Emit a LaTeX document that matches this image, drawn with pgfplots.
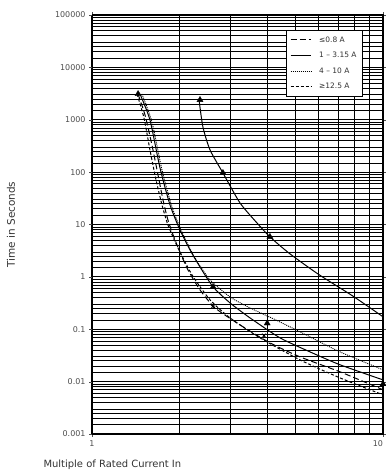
\documentclass[border=0pt]{standalone}
\usepackage{fontspec}
\setmainfont{DejaVu Sans}
\usepackage{pgfplots}
\pgfplotsset{compat=1.18}
\begin{document}
\begin{tikzpicture}
\path[use as bounding box] (-92bp,-41bp) rectangle (294bp,434bp);
\begin{loglogaxis}[
  at={(0,0)}, anchor=south west,
  scale only axis, width=291bp, height=419bp,
  xmin=1, xmax=10, ymin=0.001, ymax=100000,
  xtick={1,10}, xticklabels={1,\llap{10}},
  ytick={0.001,0.01,0.1,1,10,100,1000,10000,100000},
  yticklabels={0.001,0.01,0.1,1,10,100,1000,10000,100000},
  minor xtick={2,3,4,5,6,7,8,9},
  minor ytick={0.0015,0.002,0.0025,0.003,0.004,0.005,0.006,0.007,0.008,0.009,
    0.015,0.02,0.025,0.03,0.04,0.05,0.06,0.07,0.08,0.09,
    0.15,0.2,0.25,0.3,0.4,0.5,0.6,0.7,0.8,0.9,
    1.5,2,2.5,3,4,5,6,7,8,9,
    15,20,25,30,40,50,60,70,80,90,
    150,200,250,300,400,500,600,700,800,900,
    1500,2000,2500,3000,4000,5000,6000,7000,8000,9000,
    15000,20000,25000,30000,40000,50000,60000,70000,80000,90000},
  grid=both,
  major grid style={black, line width=1.1pt},
  minor grid style={black, line width=0.7pt},
  tick align=outside, major tick length=3pt, minor tick length=0pt,
  tick style={black!70},
  ticklabel style={font=\fontsize{8}{9}\selectfont, text=black!70},
  axis line style={black, line width=1pt},
  xlabel={Multiple of Rated Current In},
  ylabel={Time in Seconds},
  xlabel style={at={(axis description cs:0.07,-0.074)}, anchor=center, font=\fontsize{10}{12}\selectfont, text=black!80},
  ylabel style={at={(axis description cs:-0.278,0.5)}, anchor=center, font=\fontsize{10.5}{12}\selectfont, text=black!80},
  legend style={at={(0.931,0.964)}, anchor=north east, font=\fontsize{7.5}{9}\selectfont,
    draw=black, line width=0.8pt, fill=white, row sep=4.5pt, inner xsep=4pt, inner ysep=4pt, text=black!80,
    /tikz/every odd column/.append style={column sep=6pt}},
  legend cell align=left,
  legend image code/.code={\draw[#1] (0bp,0bp) -- (20bp,0bp);},
]
% <= 0.8 A
\addplot[black, line width=1pt, dash pattern=on 6pt off 3pt, smooth, tension=0.4] coordinates {
(1.439,3103) (1.521,1236) (1.607,330) (1.686,88.5) (1.754,29.4) (1.824,12.2) (1.928,5.1)
(2.119,1.49) (2.350,0.565) (2.648,0.256) (3.226,0.121) (4.088,0.055) (5.185,0.0297)
(7.113,0.0154) (10,0.0070)};
\addlegendentry{≤0.8 A}
% 1 - 3.15 A
\addplot[black, line width=1pt, smooth, tension=0.4] coordinates {
(1.462,3103) (1.582,991) (1.713,120) (1.854,23.7) (2.005,7.9) (2.172,3.27) (2.350,1.55)
(2.606,0.644) (2.980,0.319) (3.490,0.165) (4.425,0.0686) (5.611,0.037) (7.113,0.021) (10,0.0108)};
\addlegendentry{1 – 3.15 A}
% 4 - 10 A
\addplot[black, line width=0.9pt, dash pattern=on 1pt off 1pt, smooth, tension=0.4] coordinates {
(1.485,3103) (1.607,908) (1.740,110) (1.883,21.7) (2.037,7.2) (2.259,2.3) (2.545,0.877)
(2.980,0.415) (3.490,0.256) (4.425,0.138) (5.611,0.0716) (7.113,0.037) (10,0.0168)};
\addlegendentry{4 – 10 A}
% >= 12.5 A
\addplot[black, line width=1pt, dash pattern=on 3pt off 2pt, smooth, tension=0.4] coordinates {
(1.428,3103) (1.509,1082) (1.582,265) (1.660,71) (1.740,23.7) (1.824,9.8) (1.975,3.57)
(2.207,1.09) (2.545,0.364) (2.980,0.165) (3.777,0.0686) (5.185,0.026) (7.113,0.0118) (10,0.0056)};
\addlegendentry{≥12.5 A}
% right curve
\addplot[black, line width=1pt, forget plot, smooth, tension=0.4] coordinates {
(2.333,2388) (2.405,729) (2.545,265) (2.818,96.6) (3.226,25.8) (3.690,10.7) (4.088,5.8)
(4.790,2.75) (6.03,1.10) (7.88,0.43) (10,0.173)};
% markers
\addplot[only marks, mark=triangle*, mark size=3.5pt, black, forget plot] coordinates {
(1.44,3103) (2.35,2388) (2.818,96.6) (4.088,5.8) (2.606,0.644) (4.0,0.13) (10,0.0090)};
\addplot[only marks, mark=x, mark size=3pt, black, line width=0.8pt, forget plot] coordinates {
(2.60,0.27) (3.9,0.075)};
\end{loglogaxis}
\end{tikzpicture}
\end{document}
